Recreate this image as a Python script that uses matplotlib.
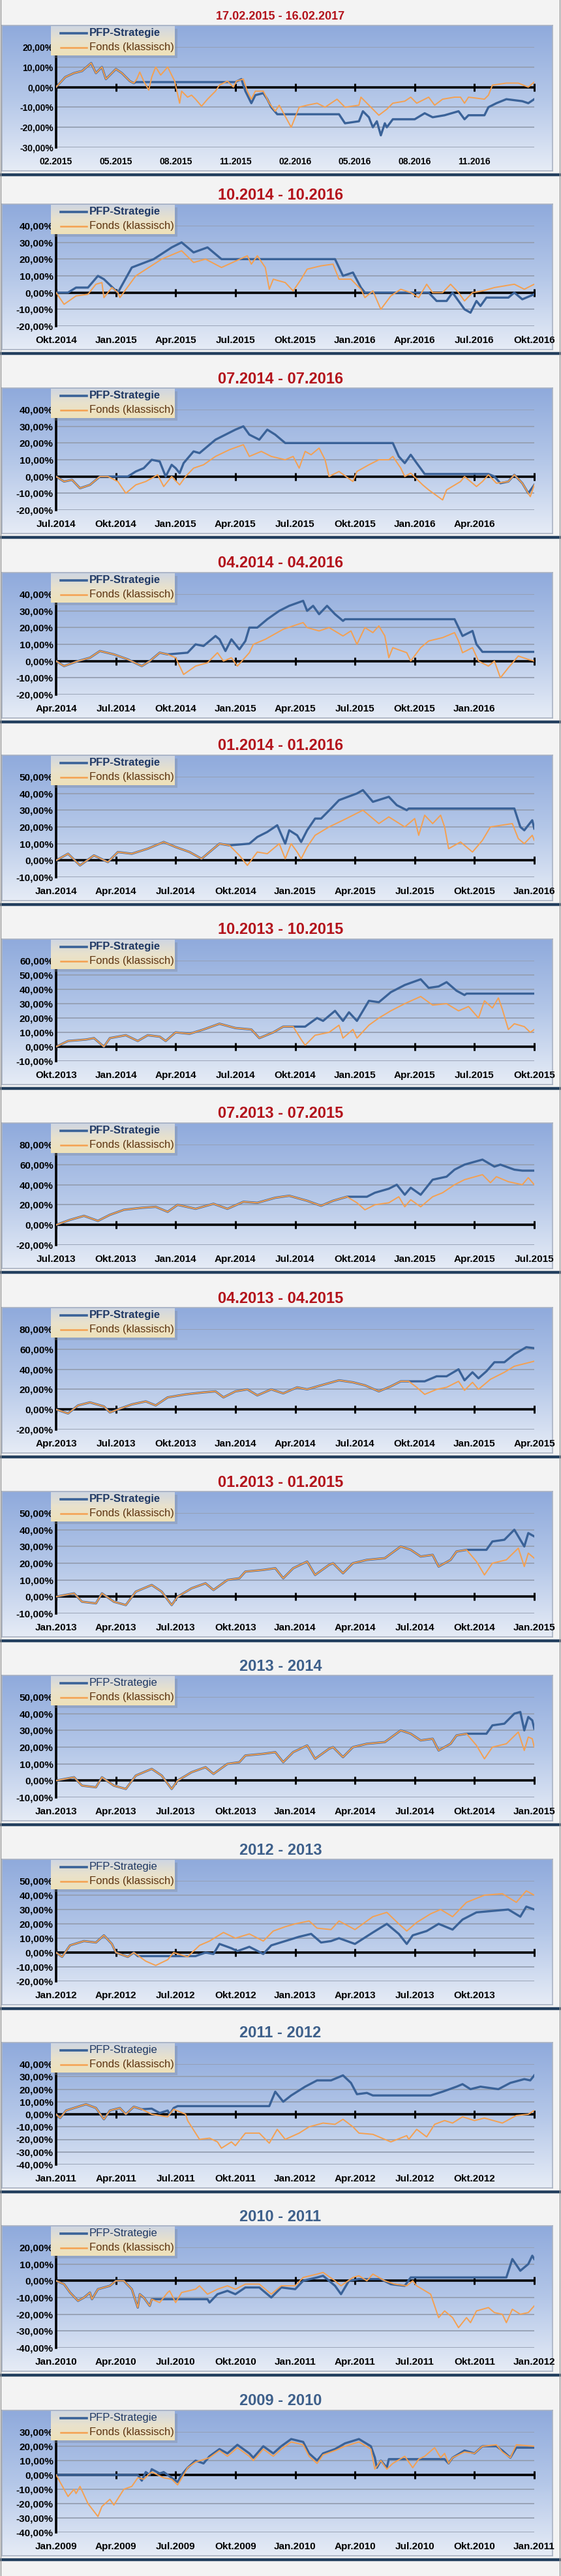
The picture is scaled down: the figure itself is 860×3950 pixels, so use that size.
import numpy as np
import matplotlib
matplotlib.use('Agg')
import matplotlib.pyplot as plt
from matplotlib.colors import LinearSegmentedColormap
from matplotlib.lines import Line2D
from matplotlib import font_manager as fm

_names = {f.name for f in fm.fontManager.ttflist}
NARROW = next((n for n in ['Liberation Sans Narrow', 'DejaVu Sans Condensed', 'Liberation Sans'] if n in _names), 'DejaVu Sans')
WIDE = 'Liberation Sans' if 'Liberation Sans' in _names else 'DejaVu Sans'

# ---------------- data (x = months from period start, y = % performance) ----------------
TITLES = ["17.02.2015 - 16.02.2017", "10.2014 - 10.2016", "07.2014 - 07.2016", "04.2014 - 04.2016",
          "01.2014 - 01.2016", "10.2013 - 10.2015", "07.2013 - 07.2015", "04.2013 - 04.2015",
          "01.2013 - 01.2015", "2013 - 2014", "2012 - 2013", "2011 - 2012", "2010 - 2011", "2009 - 2010"]
Y_RANGES = [(-30, 20, 10), (-20, 40, 10), (-20, 40, 10), (-20, 40, 10), (-10, 50, 10), (-10, 60, 10),
            (-20, 80, 20), (-20, 80, 20), (-10, 50, 10), (-10, 50, 10), (-20, 50, 10), (-40, 40, 10),
            (-40, 20, 10), (-40, 30, 10)]
X_LABELS = [
    ["02.2015", "05.2015", "08.2015", "11.2015", "02.2016", "05.2016", "08.2016", "11.2016"],
    ["Okt.2014", "Jan.2015", "Apr.2015", "Jul.2015", "Okt.2015", "Jan.2016", "Apr.2016", "Jul.2016", "Okt.2016"],
    ["Jul.2014", "Okt.2014", "Jan.2015", "Apr.2015", "Jul.2015", "Okt.2015", "Jan.2016", "Apr.2016"],
    ["Apr.2014", "Jul.2014", "Okt.2014", "Jan.2015", "Apr.2015", "Jul.2015", "Okt.2015", "Jan.2016"],
    ["Jan.2014", "Apr.2014", "Jul.2014", "Okt.2014", "Jan.2015", "Apr.2015", "Jul.2015", "Okt.2015", "Jan.2016"],
    ["Okt.2013", "Jan.2014", "Apr.2014", "Jul.2014", "Okt.2014", "Jan.2015", "Apr.2015", "Jul.2015", "Okt.2015"],
    ["Jul.2013", "Okt.2013", "Jan.2014", "Apr.2014", "Jul.2014", "Okt.2014", "Jan.2015", "Apr.2015", "Jul.2015"],
    ["Apr.2013", "Jul.2013", "Okt.2013", "Jan.2014", "Apr.2014", "Jul.2014", "Okt.2014", "Jan.2015", "Apr.2015"],
    ["Jan.2013", "Apr.2013", "Jul.2013", "Okt.2013", "Jan.2014", "Apr.2014", "Jul.2014", "Okt.2014", "Jan.2015"],
    ["Jan.2013", "Apr.2013", "Jul.2013", "Okt.2013", "Jan.2014", "Apr.2014", "Jul.2014", "Okt.2014", "Jan.2015"],
    ["Jan.2012", "Apr.2012", "Jul.2012", "Okt.2012", "Jan.2013", "Apr.2013", "Jul.2013", "Okt.2013"],
    ["Jan.2011", "Apr.2011", "Jul.2011", "Okt.2011", "Jan.2012", "Apr.2012", "Jul.2012", "Okt.2012"],
    ["Jan.2010", "Apr.2010", "Jul.2010", "Okt.2010", "Jan.2011", "Apr.2011", "Jul.2011", "Okt.2011", "Jan.2012"],
    ["Jan.2009", "Apr.2009", "Jul.2009", "Okt.2009", "Jan.2010", "Apr.2010", "Jul.2010", "Okt.2010", "Jan.2011"],
]

S0 = [(0, 0), (0.46, 5), (0.9, 7), (1.3, 8), (1.76, 12), (2.0, 7), (2.3, 10), (2.5, 4), (3.0, 9), (3.3, 7), (3.7, 3), (3.9, 2)]
PFP0 = S0 + [(4.0, 2.5), (9.0, 2.5), (9.3, 4), (9.5, -2), (9.8, -8), (10.0, -4), (10.4, -3), (10.6, -6), (10.8, -10), (11.1, -13.5),
             (14.2, -13.5), (14.5, -18), (15.2, -17), (15.4, -12), (15.7, -15), (15.9, -20), (16.1, -17), (16.3, -24), (16.5, -18),
             (16.6, -20), (16.9, -16), (18.0, -16), (18.5, -13), (18.9, -15), (19.5, -14), (20.2, -12), (20.5, -16), (20.7, -14),
             (21.5, -14), (21.7, -10), (22.1, -8), (22.6, -6), (23.4, -7), (23.7, -8), (24, -6)]
FONDS0 = S0 + [(4.05, 4), (4.2, 7.5), (4.4, 3), (4.65, -1.5), (4.8, 5), (5.0, 10), (5.25, 6), (5.6, 10), (5.8, 6), (5.95, 3),
               (6.2, -8), (6.3, -2), (6.6, -5), (6.8, -4), (7.0, -6), (7.3, -9.5), (7.6, -6), (8.0, -2), (8.2, 1), (8.6, 3),
               (8.9, 0), (9.05, 3), (9.4, 4), (9.6, -2), (9.8, -6), (10.0, -2), (10.4, -2), (10.7, -8), (11.0, -12), (11.2, -9),
               (11.8, -20), (12.2, -10), (12.6, -9), (13.1, -8), (13.5, -10), (14.1, -6), (14.5, -10), (15.2, -9), (15.3, -5),
               (15.8, -10), (16.2, -14), (16.6, -11), (16.9, -8), (17.5, -7), (17.8, -5), (18.1, -8), (18.7, -5), (19.0, -9),
               (19.4, -6), (20.0, -5), (20.3, -5), (20.5, -8), (20.7, -5), (21.5, -6), (21.7, -4), (21.9, 1), (22.6, 2),
               (23.2, 2), (23.7, 0), (24, 2.5)]

PFP1 = [(0, 0), (0.6, 0), (1.0, 3), (1.6, 3), (2.1, 10), (2.4, 8), (3.1, 0), (3.8, 15), (4.9, 20), (5.8, 27), (6.3, 30), (6.9, 24),
        (7.6, 27), (8.3, 20), (14.0, 20), (14.4, 10), (14.9, 12), (15.3, 3), (15.5, 0), (18.7, 0), (19.1, -5), (19.6, -5), (19.9, 0),
        (20.5, -10), (20.8, -12), (21.1, -5), (21.3, -8), (21.6, -3), (22.7, -3), (23.0, 0), (23.4, -4), (24, -1)]
FONDS1 = [(0, 0), (0.4, -7), (1.0, -2), (1.6, -1), (2.0, 5), (2.3, 6), (2.4, -3), (2.8, 3), (3.1, 0), (3.2, -3), (4.0, 10), (5.3, 20),
          (6.3, 25), (6.9, 18), (7.5, 20), (8.3, 15), (9.6, 22), (9.8, 17), (10.1, 22), (10.5, 15), (10.7, 2), (10.9, 8), (11.5, 6),
          (11.9, 1), (12.3, 8), (12.6, 14), (13.3, 16), (13.9, 17), (14.2, 8), (14.8, 8), (15.3, 2), (15.5, -3), (15.9, 1), (16.3, -10),
          (16.8, -2), (17.3, 2), (17.8, 0), (18.2, -3), (18.6, 5), (18.9, 0), (19.4, 0), (19.8, 5), (20.2, 0), (20.5, -5), (20.9, 0),
          (21.4, 1), (22.0, 3), (23.0, 5), (23.5, 2), (24, 5)]

S2 = [(0, 0), (0.4, -3), (0.8, -2), (1.2, -7), (1.7, -5), (2.0, -2), (2.2, 0), (2.6, 0)]
PFP2 = S2 + [(3.6, 0), (4.0, 3), (4.4, 5), (4.8, 10), (5.2, 9), (5.5, 0), (5.8, 7), (6.0, 5), (6.2, 2), (6.4, 8), (6.9, 15), (7.2, 14),
             (7.6, 18), (8.0, 22), (8.5, 25), (9.0, 28), (9.4, 30), (9.7, 25), (10.2, 22), (10.6, 28), (11.0, 25), (11.5, 20), (16.9, 20),
             (17.2, 12), (17.5, 8), (17.8, 13), (18.1, 8), (18.5, 1.5), (21.7, 1.5), (22.0, 0), (22.3, -4), (22.7, -3), (23.0, 1),
             (23.4, -4), (23.7, -10), (24, -5)]
FONDS2 = S2 + [(3.1, -3), (3.5, -10), (4.0, -5), (4.5, -3), (5.1, 1), (5.4, -6), (5.8, 0), (6.2, -5), (6.5, 0), (6.9, 5), (7.4, 7),
               (8.0, 12), (8.7, 16), (9.4, 19), (9.7, 12), (10.3, 15), (10.8, 12), (11.5, 10), (11.9, 12), (12.2, 5), (12.5, 15),
               (12.8, 13), (13.2, 17), (13.5, 10), (13.7, 0), (14.2, 3), (14.9, -3), (15.1, 3), (15.7, 7), (16.2, 10), (16.7, 10),
               (16.9, 12), (17.3, 5), (17.5, 0), (17.8, 2), (18.4, -5), (18.7, -8), (19.4, -14), (19.6, -8), (20.3, -3), (20.5, 0),
               (21.1, -6), (21.4, -3), (21.7, 1), (22.1, -4), (22.7, -3), (23.0, 1), (23.4, -4), (23.8, -12), (24, -5)]

S3 = [(0, 0), (0.4, -3), (1.1, 0), (1.7, 2), (2.2, 6), (2.9, 4), (3.6, 1), (4.3, -3), (4.7, 0), (5.2, 5), (5.6, 4)]
PFP3 = S3 + [(6.6, 5), (7.0, 10), (7.4, 9), (8.0, 15), (8.2, 13), (8.5, 6), (8.8, 13), (9.0, 10), (9.2, 7), (9.5, 12), (9.7, 20),
             (10.1, 20), (10.6, 25), (11.2, 30), (11.7, 33), (12.4, 36), (12.6, 30), (12.9, 33), (13.2, 28), (13.6, 33), (14.0, 28),
             (14.4, 24), (14.5, 25), (20.0, 25), (20.2, 20), (20.4, 15), (20.9, 18), (21.1, 10), (21.4, 5.5), (24, 5.5)]
FONDS3 = S3 + [(6.0, 2), (6.4, -8), (7.0, -3), (7.6, -1), (8.1, 5), (8.4, 0), (8.8, 2), (9.1, -3), (9.7, 5), (9.9, 10), (10.5, 13),
               (11.4, 19), (12.4, 23), (12.6, 20), (13.2, 18), (13.7, 20), (14.4, 15), (14.8, 18), (15.1, 10), (15.5, 20), (15.9, 17),
               (16.2, 21), (16.5, 15), (16.7, 2), (16.9, 8), (17.6, 5), (17.8, 0), (18.3, 8), (18.7, 12), (19.4, 14), (20.0, 17),
               (20.2, 12), (20.4, 5), (20.9, 8), (21.2, 0), (21.7, -3), (22.0, 0), (22.3, -10), (22.7, -4), (23.2, 3), (23.7, 1), (24, 0)]

S4 = [(0, 0), (0.6, 4), (1.2, -3), (1.9, 3), (2.6, -1), (3.1, 5), (3.8, 4), (4.6, 7), (5.4, 11), (6.0, 8), (6.7, 5), (7.3, 1),
      (7.8, 6), (8.2, 10), (8.7, 9)]
PFP4 = S4 + [(9.7, 10), (10.1, 14), (10.6, 17), (11.1, 21), (11.5, 10), (11.7, 18), (12.1, 15), (12.3, 11), (12.6, 18), (13.0, 25),
             (13.3, 25), (13.8, 31), (14.2, 36), (15.1, 40), (15.4, 42), (15.9, 35), (16.7, 38), (17.1, 33), (17.6, 30), (17.7, 31),
             (23.0, 31), (23.3, 20), (23.5, 18), (23.9, 24), (24, 19)]
FONDS4 = S4 + [(9.2, 3), (9.6, -3), (10.1, 5), (10.6, 4), (11.2, 10), (11.5, 1), (11.8, 10), (12.1, 5), (12.3, 1), (12.6, 8), (13.0, 15),
               (13.7, 20), (14.4, 24), (15.4, 30), (15.9, 25), (16.2, 22), (16.7, 26), (17.5, 20), (18.0, 25), (18.2, 15), (18.5, 27),
               (18.9, 22), (19.3, 27), (19.5, 20), (19.7, 7), (20.3, 11), (20.9, 5), (21.4, 12), (21.8, 20), (22.9, 22), (23.2, 13),
               (23.5, 10), (23.9, 15), (24, 12)]

S5 = [(0, 0), (0.6, 4), (1.5, 5), (1.9, 6), (2.4, 0), (2.7, 6), (3.5, 8), (4.1, 4), (4.6, 8), (5.2, 7), (5.5, 4), (6.0, 10), (6.7, 9),
      (7.4, 12), (8.2, 16), (9.0, 13), (9.8, 12), (10.2, 6), (10.9, 10), (11.4, 14), (11.9, 14)]
PFP5 = S5 + [(12.5, 14), (13.1, 20), (13.4, 18), (14.0, 25), (14.4, 18), (14.7, 24), (15.1, 18), (15.7, 32), (16.2, 31), (16.8, 38),
             (17.5, 43), (18.3, 47), (18.7, 41), (19.2, 42), (19.6, 45), (20.1, 39), (20.5, 36), (20.6, 37), (24, 37)]
FONDS5 = S5 + [(12.3, 5), (12.5, 1), (13.0, 8), (13.7, 10), (14.2, 15), (14.4, 6), (14.9, 12), (15.1, 6), (15.7, 15), (16.2, 20),
               (16.8, 25), (17.5, 30), (18.3, 35), (18.9, 29), (19.6, 30), (20.2, 25), (20.7, 28), (21.2, 20), (21.5, 32), (21.9, 27),
               (22.2, 34), (22.4, 26), (22.7, 12), (23.0, 16), (23.5, 14), (23.8, 10), (24, 12)]

S6 = [(0, 0), (0.7, 5), (1.4, 9), (2.1, 4), (2.7, 10), (3.4, 15), (4.3, 17), (5.0, 18), (5.6, 13), (6.1, 20), (7.0, 16), (7.9, 21),
      (8.6, 16), (9.4, 23), (10.1, 22), (11.0, 27), (11.7, 29), (12.6, 24), (13.3, 19), (13.9, 24), (14.6, 28)]
PFP6 = S6 + [(15.6, 28), (16.0, 32), (16.7, 36), (17.1, 40), (17.5, 30), (17.8, 37), (18.3, 30), (18.5, 35), (18.9, 45), (19.6, 48),
             (20.0, 55), (20.5, 60), (21.4, 65), (22.0, 58), (22.3, 60), (23.0, 55), (23.4, 54), (24, 54)]
FONDS6 = S6 + [(15.1, 22), (15.5, 15), (16.0, 20), (16.7, 22), (17.2, 28), (17.5, 18), (17.8, 25), (18.3, 18), (18.9, 28), (19.4, 32),
               (20.0, 40), (20.5, 45), (21.4, 50), (21.8, 42), (22.1, 48), (22.7, 43), (23.4, 40), (23.7, 47), (24, 40)]

S7 = [(0, 0), (0.6, -4), (1.1, 4), (1.7, 7), (2.4, 3), (2.7, -3), (3.1, 0), (3.8, 5), (4.5, 8), (5.0, 4), (5.6, 12), (6.5, 15),
      (7.4, 17), (8.0, 18), (8.4, 12), (9.0, 18), (9.6, 20), (10.1, 14), (10.8, 20), (11.4, 16), (12.1, 22), (12.6, 20), (13.3, 24),
      (14.2, 29), (14.9, 27), (15.5, 24), (16.2, 18), (16.8, 23), (17.3, 28), (17.7, 28)]
PFP7 = S7 + [(18.5, 28), (19.1, 33), (19.6, 33), (20.2, 40), (20.5, 29), (20.9, 37), (21.2, 31), (21.6, 38), (22.0, 47), (22.5, 47),
             (23.0, 55), (23.6, 62), (24, 61)]
FONDS7 = S7 + [(18.1, 22), (18.5, 15), (19.1, 20), (19.6, 22), (20.2, 28), (20.5, 19), (20.9, 27), (21.2, 20), (21.8, 30), (22.5, 37),
               (23.0, 43), (24, 48)]

S8 = [(0, 0), (0.9, 2), (1.3, -3), (2.0, -4), (2.3, 2), (2.9, -3), (3.5, -5), (4.0, 3), (4.8, 7), (5.3, 3), (5.8, -5), (6.1, 0),
      (6.8, 5), (7.5, 8), (7.9, 4), (8.6, 10), (9.2, 11), (9.5, 15), (10.4, 16), (11.0, 17), (11.4, 11), (11.9, 17), (12.6, 21),
      (13.0, 13), (13.7, 19), (13.9, 20), (14.4, 14), (14.9, 20), (15.6, 22), (16.5, 23), (17.3, 30), (17.8, 28), (18.3, 24),
      (18.9, 25), (19.2, 18), (19.8, 22), (20.1, 27), (20.6, 28)]
PFP8 = S8 + [(21.6, 28), (21.9, 33), (22.5, 34), (23.0, 40), (23.5, 30), (23.7, 38), (24, 36)]
FONDS8 = S8 + [(21.1, 21), (21.5, 13), (21.9, 20), (22.6, 22), (23.2, 29), (23.5, 18), (23.7, 26), (24, 23)]
PFP9 = S8 + [(21.6, 28), (21.9, 33), (22.5, 34), (23.0, 40), (23.3, 41), (23.5, 30), (23.7, 38), (23.9, 36), (24, 31)]
FONDS9 = S8 + [(21.1, 21), (21.5, 13), (21.9, 20), (22.6, 22), (23.2, 29), (23.5, 18), (23.7, 26), (23.9, 25), (24, 20)]

S10 = [(0, 0), (0.3, -3), (0.7, 5), (1.4, 8), (2.0, 7), (2.4, 12), (2.8, 6), (3.0, 0), (3.6, -3), (3.9, 0)]
PFP10 = S10 + [(4.1, -2.5), (7.0, -2.5), (7.5, 0), (7.9, -1), (8.2, 6), (8.8, 3), (9.1, 1), (9.7, 4), (10.4, -1), (10.8, 5), (11.5, 8),
               (12.2, 11), (12.8, 13), (13.3, 7), (13.8, 8), (14.2, 10), (15.0, 6), (15.9, 14), (16.6, 20), (17.2, 13), (17.6, 6),
               (17.9, 12), (18.6, 15), (19.2, 20), (19.9, 16), (20.4, 23), (21.1, 28), (22.7, 30), (23.3, 25), (23.6, 32), (24, 30)]
FONDS10 = S10 + [(4.5, -6), (5.0, -9), (5.6, -5), (5.9, 0), (6.6, -3), (7.2, 5), (7.7, 8), (8.4, 14), (9.0, 10), (9.7, 13), (10.4, 8),
                 (10.9, 15), (11.5, 18), (12.0, 20), (12.7, 22), (13.1, 17), (13.8, 16), (14.2, 22), (15.0, 16), (15.9, 25), (16.6, 28),
                 (17.2, 20), (17.6, 15), (18.1, 21), (18.8, 27), (19.3, 30), (19.9, 25), (20.6, 35), (21.5, 40), (22.4, 41), (23.1, 35),
                 (23.6, 43), (24, 40)]

S11 = [(0, 0), (0.2, -3), (0.5, 3), (1.1, 6), (1.5, 8), (2.0, 5), (2.4, -4), (2.7, 3), (3.2, 5), (3.5, 0), (3.9, 6), (4.3, 4)]
PFP11 = S11 + [(4.8, 4.5), (5.2, 1), (5.6, 3), (5.7, 0), (5.9, 5), (6.1, 6.5), (10.7, 6.5), (11.0, 18), (11.4, 10), (11.8, 15),
               (12.5, 22), (13.1, 27), (13.8, 27), (14.4, 31), (14.8, 25), (15.1, 16), (15.6, 17), (15.9, 15), (18.8, 15), (19.4, 18),
               (20.1, 22), (20.4, 24), (20.8, 20), (21.3, 22), (22.2, 20), (22.8, 25), (23.5, 28), (23.8, 27), (24, 31)]
FONDS11 = S11 + [(4.8, 0), (5.6, -2), (5.9, 4), (6.5, 0), (6.6, -5), (7.2, -20), (7.7, -19), (8.1, -22), (8.3, -27), (8.8, -22),
                 (9.0, -25), (9.5, -15), (10.2, -15), (10.7, -23), (11.1, -12), (11.5, -20), (12.2, -15), (12.7, -10), (13.4, -7),
                 (14.0, -8), (14.4, -4), (14.9, -10), (15.2, -15), (15.9, -16), (16.5, -20), (16.8, -22), (17.6, -17), (17.7, -20),
                 (18.1, -12), (18.6, -18), (19.0, -8), (19.5, -5), (19.9, -7), (20.4, -2), (21.0, -5), (21.5, -3), (22.4, -7),
                 (23.1, -1), (23.7, 0), (24, 3)]

S12 = [(0, 0), (0.4, -2), (0.7, -7), (1.1, -12), (1.4, -10), (1.7, -7), (1.8, -11), (2.1, -5), (2.7, -3), (3.0, 0), (3.4, 0),
       (3.8, -5), (4.1, -16), (4.2, -8), (4.4, -10), (4.7, -15), (4.8, -11)]
PFP12 = S12 + [(7.6, -11), (7.7, -13), (8.1, -8), (8.6, -6), (9.0, -8), (9.5, -4), (10.2, -4), (10.8, -10), (11.3, -4), (12.0, -5),
               (12.4, 0), (13.1, 2), (13.4, 3), (14.0, -3), (14.3, -8), (14.7, 0), (15.2, 1), (16.3, 1), (16.8, -2), (17.5, -3),
               (17.8, 2), (22.6, 2), (22.9, 13), (23.3, 6), (23.7, 10), (23.9, 15), (24, 13)]
FONDS12 = S12 + [(5.2, -13), (5.6, -7), (5.7, -6), (6.0, -13), (6.3, -7), (7.0, -5), (7.2, -3), (7.6, -8), (8.1, -5), (8.6, -3),
                 (9.0, -5), (9.5, -2), (10.2, -2), (10.8, -8), (11.3, -3), (12.0, -3), (12.4, 2), (13.1, 4), (13.4, 5), (14.0, 0),
                 (14.3, -3), (14.9, 2), (15.2, 3), (15.6, 0), (15.9, 4), (16.5, 0), (17.0, -2), (17.6, -3), (17.9, 0), (18.1, -3),
                 (18.8, -8), (19.2, -22), (19.5, -18), (19.9, -22), (20.2, -28), (20.6, -22), (20.8, -25), (21.1, -18), (21.7, -16),
                 (22.0, -19), (22.4, -20), (22.6, -25), (22.9, -17), (23.3, -20), (23.7, -19), (24, -15)]

PFP13 = [(0, 0), (4.1, 0), (4.3, -4), (4.5, 2), (4.7, 0), (4.8, 4), (5.2, 1), (5.4, 2), (5.9, -3), (6.1, -5), (6.3, 0), (6.6, 5),
         (7.0, 10), (7.4, 8), (7.7, 13), (8.2, 18), (8.6, 15), (9.1, 21), (9.7, 15), (9.9, 12), (10.4, 20), (10.9, 15), (11.3, 20),
         (11.8, 25), (12.4, 23), (12.7, 15), (13.1, 10), (13.4, 15), (14.0, 18), (14.5, 22), (15.2, 25), (15.8, 20), (16.0, 12),
         (16.1, 5), (16.3, 10), (16.6, 5), (16.7, 11), (19.5, 11), (19.7, 8), (19.9, 12), (20.5, 17), (21.0, 15), (21.4, 20),
         (22.1, 20), (22.4, 17), (22.8, 12), (23.1, 19), (24, 19)]
FONDS13 = [(0, 0), (0.4, -10), (0.6, -15), (0.9, -10), (1.0, -13), (1.2, -8), (1.6, -20), (2.1, -29), (2.3, -22), (2.7, -17),
           (2.9, -21), (3.4, -10), (3.8, -8), (4.1, -2), (4.4, -3), (4.7, 1), (4.8, 2), (5.4, -2), (5.8, -3), (6.1, -7), (6.4, 0),
           (6.6, 5), (7.0, 9), (7.7, 12), (8.2, 17), (8.6, 13), (9.1, 19), (9.7, 13), (9.9, 10), (10.4, 18), (10.9, 13), (11.3, 18),
           (11.8, 23), (12.4, 21), (12.7, 13), (13.1, 8), (13.4, 14), (14.0, 17), (14.5, 20), (15.2, 23), (15.8, 18), (16.0, 4),
           (16.3, 10), (16.6, 4), (16.9, 8), (17.5, 13), (17.9, 5), (18.2, 11), (18.5, 13), (19.0, 19), (19.3, 12), (19.5, 15),
           (19.7, 8), (19.9, 12), (20.5, 16), (21.0, 15), (21.4, 20), (22.1, 21), (22.4, 16), (22.8, 12), (23.1, 21), (24, 20)]

PFP = [PFP0, PFP1, PFP2, PFP3, PFP4, PFP5, PFP6, PFP7, PFP8, PFP9, PFP10, PFP11, PFP12, PFP13]
FONDS = [FONDS0, FONDS1, FONDS2, FONDS3, FONDS4, FONDS5, FONDS6, FONDS7, FONDS8, FONDS9, FONDS10, FONDS11, FONDS12, FONDS13]

# ---------------- layout ----------------
W, H = 860, 3950
TITLE_Y = [25, 299, 581, 864, 1144, 1426, 1708, 1991, 2273, 2555, 2837, 3118, 3399, 3682]
BLUE, ORANGE = '#3a6298', '#f5a04f'

fig = plt.figure(figsize=(W / 100, H / 100), dpi=100, facecolor='#f3f3f3')


def rect(x, y, w, h):
    return [x / W, 1 - (y + h) / H, w / W, h / H]


bg_cmap = LinearSegmentedColormap.from_list('bg', ['#8faadc', '#b4c7e8', '#e6ecf6'])
lg_cmap = LinearSegmentedColormap.from_list('lg', ['#cfd6e2', '#e9e2cc', '#efe1b8'])
grad = np.linspace(0, 1, 256)[:, None]


def pct(v):
    return f"{v:.2f}%".replace('.', ',')


for i in range(14):
    T = TITLE_Y[i]
    ymin, ymax, ystep = Y_RANGES[i]
    lab_font = WIDE if i == 0 else NARROW
    lab_size = 10 if i == 0 else 11

    bg = fig.add_axes(rect(3, T + 14, 844, 223), zorder=0)
    bg.imshow(grad, cmap=bg_cmap, aspect='auto', extent=[0, 1, 0, 1])
    bg.set_xticks([]); bg.set_yticks([])
    for s in bg.spines.values():
        s.set_color('#a9b2c2'); s.set_linewidth(1.2)

    tcol = '#b3121b' if i <= 8 else '#3d5f8a'
    fig.text(430 / W, 1 - T / H, TITLES[i], ha='center', va='center', color=tcol,
             fontsize=13 if i == 0 else 17, fontweight='bold', family=WIDE if i == 0 else NARROW)

    ax = fig.add_axes(rect(86, T + 47, 733, 154), zorder=2)
    ax.patch.set_alpha(0)
    ax.set_xlim(0, 24)
    ax.set_ylim(ymin, ymax)
    yt = np.arange(ymin, ymax + ystep / 2, ystep)
    ax.set_yticks(yt)
    ax.set_yticklabels([pct(v) for v in yt], fontsize=lab_size, fontweight='bold', family=lab_font)
    ax.yaxis.grid(True, color='#959fb2', lw=1.3)
    ax.set_axisbelow(True)
    for s in ['top', 'right']:
        ax.spines[s].set_visible(False)
    ax.spines['left'].set_linewidth(2.6)
    ax.spines['bottom'].set_position(('data', 0))
    ax.spines['bottom'].set_linewidth(2.6)
    ax.set_xticks(np.arange(0, 25, 3))
    ax.tick_params(axis='x', direction='inout', length=9, width=2.2, labelbottom=False)
    ax.tick_params(axis='y', length=0, pad=3)

    sec = ax.secondary_xaxis('bottom')
    sec.set_xticks(np.arange(0, 3 * len(X_LABELS[i]), 3))
    sec.set_xticklabels(X_LABELS[i], fontsize=lab_size, fontweight='bold', family=lab_font)
    sec.tick_params(length=0, pad=11)
    sec.spines['bottom'].set_visible(False)

    px, py = zip(*PFP[i])
    fx, fy = zip(*FONDS[i])
    ax.plot(px, py, color=BLUE, lw=2.4, zorder=3, solid_joinstyle='round')
    ax.plot(fx, fy, color=ORANGE, lw=1.4, zorder=4, solid_joinstyle='round')

    sh = fig.add_axes(rect(82, T + 19, 190, 45), zorder=4)
    sh.set_facecolor('#7d8797'); sh.patch.set_alpha(0.35); sh.set_axis_off()
    sh.add_artist(sh.patch)
    lg = fig.add_axes(rect(78, T + 15, 190, 45), zorder=5)
    lg.imshow(grad, cmap=lg_cmap, aspect='auto', extent=[0, 1, 0, 1])
    lg.set_xlim(0, 1); lg.set_ylim(0, 1)
    lg.set_axis_off()
    lg.plot([0.08, 0.29], [0.76, 0.76], color=BLUE, lw=2.6)
    lg.plot([0.08, 0.29], [0.27, 0.27], color=ORANGE, lw=1.8)
    lw_ = 'bold' if i <= 8 else 'normal'
    lg.text(0.31, 0.76, 'PFP-Strategie', va='center', ha='left', color='#1f3864', fontsize=12,
            fontweight=lw_, family=NARROW)
    lg.text(0.31, 0.27, 'Fonds (klassisch)', va='center', ha='left', color='#5e3410', fontsize=12,
            fontweight='normal', family=NARROW)

    ysep = 1 - (T + 243) / H
    fig.add_artist(Line2D([0, 1], [ysep, ysep], transform=fig.transFigure, color='#233f5e', lw=3.2))

fig.add_artist(Line2D([1 / W, 1 / W], [0, 1], transform=fig.transFigure, color='#9a9a9a', lw=1))
fig.add_artist(Line2D([858 / W, 858 / W], [0, 1], transform=fig.transFigure, color='#9a9a9a', lw=1))

fig.savefig('out.png', dpi=100, facecolor=fig.get_facecolor())
